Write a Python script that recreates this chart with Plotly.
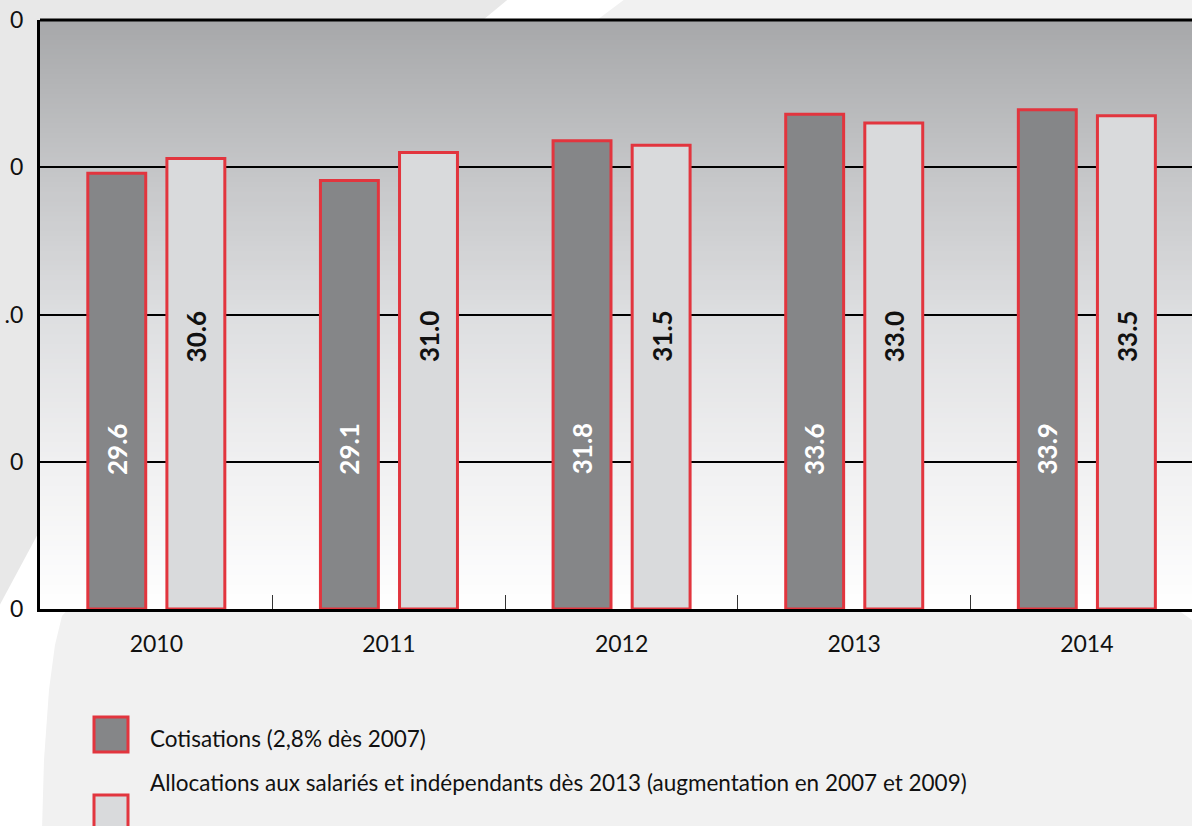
import plotly.graph_objects as go

# ---------------- data ----------------
years = ["2010", "2011", "2012", "2013", "2014"]
cotisations = [29.6, 29.1, 31.8, 33.6, 33.9]
allocations = [30.6, 31.0, 31.5, 33.0, 33.5]
series_names = ["Cotisations (2,8% dès 2007)",
                "Allocations aux salariés et indépendants dès 2013 (augmentation en 2007 et 2009)"]
y_tickvals = [0, 10, 20, 30, 40]
y_ticktext = ["0", "0", ".0", "0", "0"]

# ---------------- style ----------------
W, H = 1192, 826
ML, MR, MT, MB = 40, 0, 20, 217
PW, PH = W - ML - MR, H - MT - MB
FONT = "Lato"
RED = "#e2353e"
DARK = "#858688"
LIGHT = "#d9dadc"
BAR_W = 0.249
OFF_DARK = -0.2945
OFF_LIGHT = 0.0455


def px2paper(px, py):
    return (px - ML) / PW, (MT + PH - py) / PH


def path_from_pixels(pts):
    parts = []
    for i, (px, py) in enumerate(pts):
        x, y = px2paper(px, py)
        parts.append(("M" if i == 0 else "L") + f"{x:.5f},{y:.5f}")
    return " ".join(parts) + " Z"


shapes = []
# decorative background: white sweep and light-grey disc
white_region = [(512, -4), (1196, -4), (1196, 830), (-4, 830), (-4, 612),
                (40, 530), (483, 20)]
grey_region = [(629, -4), (1196, -4), (1196, 560), (1178, 610), (1196, 623),
               (1196, 830), (42, 830), (44, 760), (49, 690), (55, 645),
               (62, 616), (597, 20)]
shapes.append(dict(type="path", xref="paper", yref="paper", layer="below",
                   path=path_from_pixels(white_region), fillcolor="#ffffff",
                   line=dict(width=0)))
shapes.append(dict(type="path", xref="paper", yref="paper", layer="below",
                   path=path_from_pixels(grey_region), fillcolor="#f1f1f1",
                   line=dict(width=0)))

# plot-area vertical gradient (styling only)
stops = [(0.0, (255, 255, 255)), (0.25, (240, 240, 241)), (0.5, (221, 222, 224)),
         (0.75, (196, 197, 199)), (1.0, (167, 168, 170))]


def grad_color(t):
    for (t0, c0), (t1, c1) in zip(stops[:-1], stops[1:]):
        if t0 <= t <= t1:
            f = (t - t0) / (t1 - t0)
            c = [round(a + (b - a) * f) for a, b in zip(c0, c1)]
            return f"rgb({c[0]},{c[1]},{c[2]})"
    return "rgb(255,255,255)"


NB = 120
for i in range(NB):
    y0 = i / NB
    y1 = (i + 1) / NB + 0.002
    shapes.append(dict(type="rect", xref="paper", yref="paper", layer="below",
                       x0=0, x1=1, y0=y0, y1=min(y1, 1.0),
                       fillcolor=grad_color((i + 0.5) / NB), line=dict(width=0)))

# top frame line
shapes.append(dict(type="line", xref="paper", yref="paper", layer="above",
                   x0=0, x1=1, y0=1, y1=1, line=dict(color="black", width=3)))

# custom legend squares
legend_items = [(series_names[0], DARK, 717, 738), (series_names[1], LIGHT, 795, 783)]
annotations = []
for name, col, sq_top, text_y in legend_items:
    x0, y1 = px2paper(94, sq_top)
    x1, y0 = px2paper(128, sq_top + 35)
    shapes.append(dict(type="rect", xref="paper", yref="paper", layer="above",
                       x0=x0, x1=x1, y0=y0, y1=y1, fillcolor=col,
                       line=dict(color=RED, width=3)))
    tx, ty = px2paper(148, text_y)
    annotations.append(dict(xref="paper", yref="paper", x=tx, y=ty,
                            xanchor="left", yanchor="middle", showarrow=False,
                            text=name, font=dict(family=FONT, size=22.5, color="#111111")))

# bar value labels (rotated, fixed height inside bars)
for i, v in enumerate(cotisations):
    annotations.append(dict(xref="x", yref="y", x=i + OFF_DARK + BAR_W / 2, y=10.85,
                            text=f"<b>{v:.1f}</b>", textangle=-90, showarrow=False,
                            font=dict(family=FONT, size=26, color="white")))
for i, v in enumerate(allocations):
    annotations.append(dict(xref="x", yref="y", x=i + OFF_LIGHT + BAR_W / 2, y=18.5,
                            text=f"<b>{v:.1f}</b>", textangle=-90, showarrow=False,
                            font=dict(family=FONT, size=26, color="#111111")))

fig = go.Figure()
fig.add_trace(go.Bar(x=years, y=cotisations, name=series_names[0],
                     offset=OFF_DARK, width=BAR_W,
                     marker=dict(color=DARK, line=dict(color=RED, width=3))))
fig.add_trace(go.Bar(x=years, y=allocations, name=series_names[1],
                     offset=OFF_LIGHT, width=BAR_W,
                     marker=dict(color=LIGHT, line=dict(color=RED, width=3))))

fig.update_layout(
    width=W, height=H,
    margin=dict(l=ML, r=MR, t=MT, b=MB, pad=0),
    paper_bgcolor="#e8e8e8",
    plot_bgcolor="rgba(0,0,0,0)",
    barmode="overlay",
    showlegend=False,
    font=dict(family=FONT, size=23, color="#111111"),
    shapes=shapes,
    annotations=annotations,
    xaxis=dict(type="category", range=[-0.5, 4.452], tickson="boundaries",
               ticks="inside", ticklen=14, tickwidth=1, tickcolor="#333333",
               showline=True, linecolor="black", linewidth=3,
               showgrid=False, zeroline=False, ticklabelstandoff=12,
               tickfont=dict(family=FONT, size=23, color="#111111")),
    yaxis=dict(range=[0, 40], tickvals=y_tickvals, ticktext=y_ticktext,
               ticks="", showline=True, linecolor="black", linewidth=3,
               showgrid=True, gridcolor="black", gridwidth=2, zeroline=False,
               ticklabelstandoff=9,
               tickfont=dict(family=FONT, size=23, color="#111111")),
)

fig.write_html(
    "out.html",
    config={"displayModeBar": False},
    post_script="document.body.style.margin='0px';document.body.style.overflow='hidden';",
)
